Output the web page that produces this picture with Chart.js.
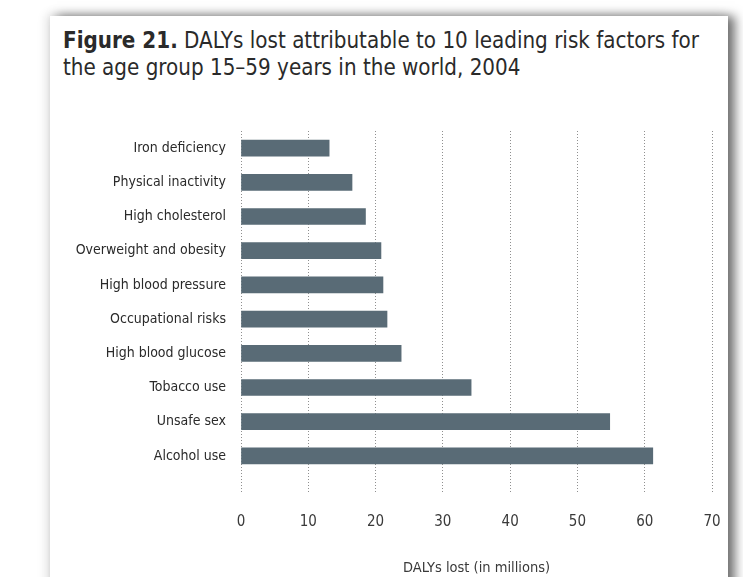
<!DOCTYPE html>
<html>
<head>
<meta charset="utf-8">
<script src="https://cdn.jsdelivr.net/npm/chart.js@4/dist/chart.umd.min.js"></script>
<style>
  html, body { margin: 0; padding: 0; background: #fff; }
  body { width: 743px; height: 577px; position: relative; overflow: hidden; }
  #card {
    position: absolute; left: 50px; top: 16px; width: 678px; height: 600px;
    background: #fff;
    box-shadow: 7px 0 10px rgba(0,0,0,0.55), -3px -2px 10px rgba(0,0,0,0.12);
  }
  #title {
    position: absolute; left: 63px; top: 27px; width: 720px;
    font-family: 'DejaVu Sans Condensed', 'Liberation Sans Narrow', 'Roboto', sans-serif;
    font-size: 23px; line-height: 27px; color: #2a2a2a;
    white-space: nowrap;
    transform: scaleX(0.965); transform-origin: left top;
  }
  #title b { font-weight: bold; }
  #wrap { position: absolute; left: 50px; top: 100px; width: 678px; height: 477px; }
</style>
</head>
<body>
<div id="card"></div>
<div id="title"><b>Figure 21.</b> DALYs lost attributable to 10 leading risk factors for<br>the age group 15–59 years in the world, 2004</div>
<div id="wrap"><canvas id="neighbourhoodChart"></canvas></div>
<script>
// risk factors, top to bottom
const riskFactors = ["Iron deficiency", "Physical inactivity", "High cholesterol",
  "Overweight and obesity", "High blood pressure", "Occupational risks",
  "High blood glucose", "Tobacco use", "Unsafe sex", "Alcohol use"];
// DALYs lost, millions
const dalysLost = [13.1, 16.5, 18.5, 20.8, 21.1, 21.7, 23.8, 34.2, 54.8, 61.2];
const xTicks = [0, 10, 20, 30, 40, 50, 60, 70];

const narrow = "'DejaVu Sans Condensed', 'Liberation Sans Narrow', 'Roboto', sans-serif";

new Chart(document.getElementById("neighbourhoodChart"), {
  type: 'bar',
  data: {
    labels: riskFactors,
    datasets: [
      {
        backgroundColor: "#596b76",
        barThickness: 16,
        data: dalysLost
      }
    ]
  },
  options: {
    indexAxis: 'y',
    responsive: true,
    maintainAspectRatio: false,
    animation: false,
    events: [],
    layout: { padding: { top: 31, right: 16, left: 0, bottom: 0 } },
    plugins: {
      legend: { display: false },
      tooltip: { enabled: false }
    },
    scales: {
      x: {
        min: 0, max: 70,
        afterBuildTicks: (s) => { s.ticks = xTicks.map(v => ({ value: v })); },
        afterFit: (s) => {
          s.height = 104;
          s.paddingLeft = 0;
          s.paddingRight = 0;
        },
        border: { display: false, dash: [1, 2] },
        grid: {
          color: "#8f8f8f", lineWidth: 1,
          drawTicks: true, tickLength: 19,
          tickColor: "#8f8f8f", tickBorderDash: [1, 2]
        },
        ticks: {
          padding: 21, color: "#3a3a3a",
          font: { family: narrow, size: 15 }
        },
        title: {
          display: true, text: "DALYs lost (in millions)",
          color: "#3a3a3a", padding: { top: 0, bottom: 0 },
          font: { family: narrow, size: 14.5 }
        }
      },
      y: {
        afterFit: (s) => { s.width = 191; },
        border: { display: false },
        grid: { display: false, drawTicks: false },
        ticks: {
          padding: 15, color: "#2a2a2a",
          font: { family: narrow, size: 14 }
        }
      }
    }
  }
});
</script>
</body>
</html>
